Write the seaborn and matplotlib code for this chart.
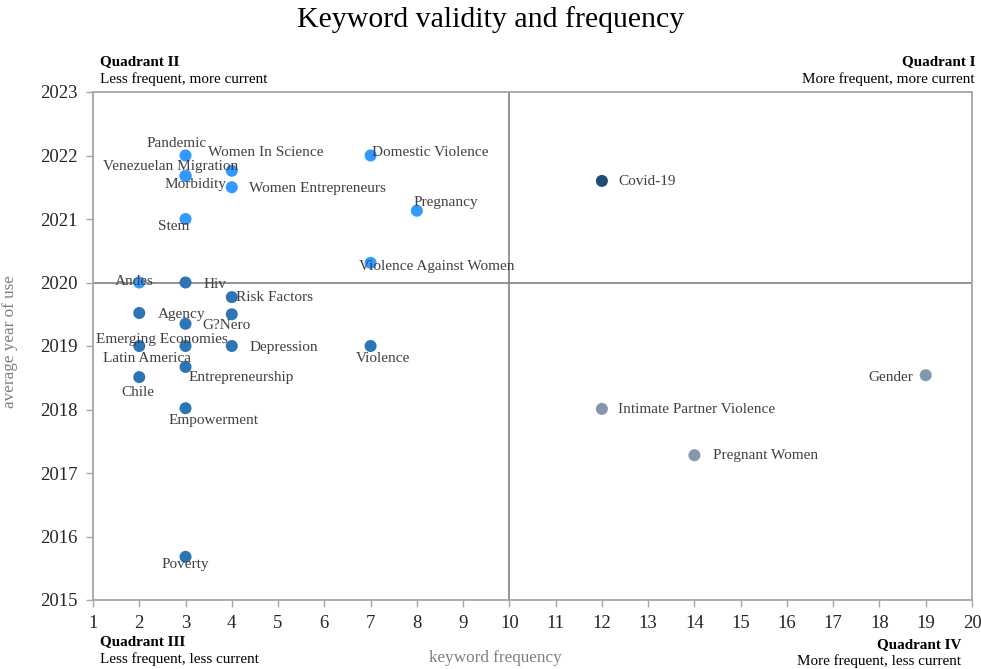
import matplotlib
matplotlib.use("Agg")
import matplotlib.pyplot as plt
import seaborn as sns
import pandas as pd

# ---- data ----
keywords = ["Pandemic", "Women In Science", "Venezuelan Migration", "Morbidity",
            "Women Entrepreneurs", "Stem", "Domestic Violence", "Pregnancy",
            "Violence Against Women", "Andes",
            "Hiv", "Risk Factors", "Agency", "G?Nero", "", "Emerging Economies",
            "Latin America", "Depression", "Violence", "Entrepreneurship", "Chile",
            "Empowerment", "Poverty",
            "Covid-19",
            "Gender", "Intimate Partner Violence", "Pregnant Women"]
frequency = [3, 4, 3, 3, 4, 3, 7, 8, 7, 2,
             3, 4, 2, 3, 4, 2, 3, 4, 7, 3, 2, 3, 3,
             12,
             19, 12, 14]
avg_year = [2022.0, 2021.76, 2021.68, 2021.68, 2021.5, 2021.0, 2022.0, 2021.13, 2020.31, 2020.0,
            2020.0, 2019.77, 2019.52, 2019.35, 2019.5, 2019.0, 2019.0, 2019.0, 2019.0, 2018.67,
            2018.51, 2018.02, 2015.68,
            2021.6,
            2018.54, 2018.01, 2017.28]
group = (["recent"] * 10 + ["older"] * 13 + ["top"] + ["frequent_old"] * 3)

x_ticks = list(range(1, 21))
y_ticks = list(range(2015, 2024))

# ---- styles (not data) ----
palette = {"recent": "#3399FF", "older": "#2E75B6", "top": "#1F4E79", "frequent_old": "#8497B0"}
# label offsets in pixels (dx right, dy up)
label_offsets = [(-9, 12), (34, 18), (-15, 9), (10, -9), (86, -1), (-12, -7), (60, 3), (29, 8),
                 (66, -4), (-5, 1),
                 (29, -2), (43, 0), (42, -2), (41, -2), (0, 0), (23, 6),
                 (-39, -13), (52, -1), (12, -12), (56, -11), (-1, -15),
                 (28, -12), (0, -8),
                 (45, -1),
                 (-35, -2), (95, -1), (71, 0)]

df = pd.DataFrame({"keyword": keywords, "frequency": frequency,
                   "year": avg_year, "group": group})

sns.set_theme(style="white")
plt.rcParams["font.family"] = ["Liberation Serif", "DejaVu Serif"]

fig = plt.figure(figsize=(9.81, 6.69), dpi=100)
ax = fig.add_axes([93 / 981, 1 - 600 / 669, (972 - 93) / 981, (600 - 92) / 669])

ax.axvline(10, color="#808080", lw=1.2, zorder=1)
ax.axhline(2020, color="#808080", lw=1.2, zorder=1)

sns.scatterplot(data=df, x="frequency", y="year", hue="group", palette=palette,
                s=75, edgecolor="none", legend=False, ax=ax, zorder=3)

for k, xv, yv, (dx, dy) in zip(keywords, frequency, avg_year, label_offsets):
    if k:
        ax.annotate(k, (xv, yv), xytext=(dx, dy), textcoords="offset pixels",
                    ha="center", va="center", fontsize=11, color="#404040", zorder=4)

ax.set_xlim(1, 20)
ax.set_ylim(2015, 2023)
ax.set_xticks(x_ticks)
ax.set_yticks(y_ticks)
ax.tick_params(axis="both", labelsize=13.5, colors="#262626", direction="out",
               length=5, width=1, bottom=True, left=True, color="#A6A6A6", pad=6)
for sp in ax.spines.values():
    sp.set_color("#A6A6A6")
    sp.set_linewidth(1.3)

ax.set_xlabel("keyword frequency", fontsize=12.3, color="#7F7F7F")
ax.xaxis.set_label_coords((495 - 93) / 879, -(650 - 600) / 508)
ax.set_ylabel("average year of use", fontsize=12.3, color="#7F7F7F")
ax.yaxis.set_label_coords(-(93 - 18) / 879, (600 - 342) / 508)

fig.text(0.5, 1 - 20 / 669, "Keyword validity and frequency", ha="center", va="center",
         fontsize=21.5, color="#000000")

qcol = "#000000"
qfs = 10.9
fig.text(100 / 981, 1 - 62 / 669, "Quadrant II", fontsize=qfs, fontweight="bold", color=qcol, va="center")
fig.text(100 / 981, 1 - 79 / 669, "Less frequent, more current", fontsize=qfs, color=qcol, va="center")
fig.text(975 / 981, 1 - 62 / 669, "Quadrant I", fontsize=qfs, fontweight="bold", color=qcol, va="center", ha="right")
fig.text(975 / 981, 1 - 79 / 669, "More frequent, more current", fontsize=qfs, color=qcol, va="center", ha="right")
fig.text(100 / 981, 1 - 642 / 669, "Quadrant III", fontsize=qfs, fontweight="bold", color=qcol, va="center")
fig.text(100 / 981, 1 - 659 / 669, "Less frequent, less current", fontsize=qfs, color=qcol, va="center")
fig.text(961 / 981, 1 - 645 / 669, "Quadrant IV", fontsize=qfs, fontweight="bold", color=qcol, va="center", ha="right")
fig.text(961 / 981, 1 - 661 / 669, "More frequent, less current", fontsize=qfs, color=qcol, va="center", ha="right")

fig.savefig("out.png", dpi=100)
